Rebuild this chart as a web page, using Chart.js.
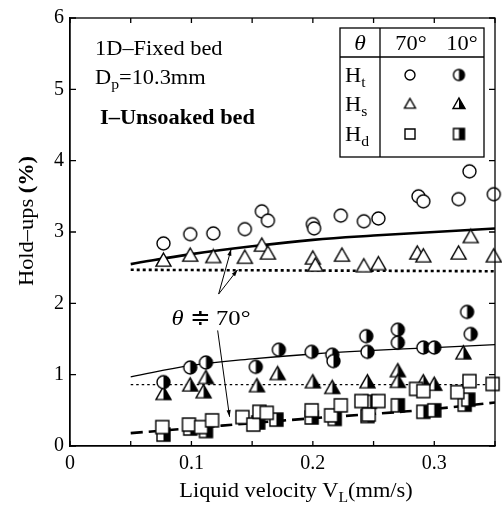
<!DOCTYPE html>
<html>
<head>
<meta charset="utf-8">
<script src="https://cdn.jsdelivr.net/npm/chart.js@4/dist/chart.umd.min.js"></script>
<style>
  html, body { margin: 0; padding: 0; background: #fff; }
  #wrap { width: 502px; height: 508px; position: relative; }
</style>
</head>
<body>
<div id="wrap"><canvas id="chart"></canvas></div>
<script>
// ==== data (x: liquid velocity mm/s, y: hold-up %) ====
const ht70 = [[0.077,2.84],[0.099,2.97],[0.118,2.98],[0.144,3.04],[0.158,3.29],[0.163,3.16],[0.200,3.11],[0.201,3.05],[0.223,3.23],[0.242,3.15],[0.254,3.19],[0.287,3.50],[0.291,3.43],[0.320,3.46],[0.329,3.85],[0.349,3.53]];
const hs70 = [[0.077,2.60],[0.099,2.67],[0.118,2.65],[0.144,2.64],[0.158,2.81],[0.163,2.70],[0.200,2.63],[0.202,2.53],[0.224,2.67],[0.242,2.52],[0.254,2.55],[0.286,2.70],[0.291,2.66],[0.320,2.70],[0.330,2.93],[0.349,2.66]];
const hd70 = [[0.076,0.265],[0.098,0.30],[0.108,0.265],[0.117,0.36],[0.142,0.405],[0.151,0.30],[0.156,0.48],[0.162,0.465],[0.199,0.50],[0.215,0.43],[0.223,0.57],[0.240,0.63],[0.246,0.44],[0.254,0.63],[0.285,0.80],[0.291,0.77],[0.319,0.755],[0.329,0.91],[0.348,0.87]];
const ht10 = [[0.077,0.895],[0.099,1.10],[0.112,1.17],[0.153,1.11],[0.172,1.35],[0.199,1.32],[0.216,1.28],[0.217,1.19],[0.244,1.54],[0.245,1.32],[0.270,1.63],[0.270,1.45],[0.291,1.38],[0.300,1.38],[0.327,1.88],[0.330,1.57]];
const hs10 = [[0.077,0.73],[0.099,0.85],[0.110,0.755],[0.112,0.955],[0.154,0.84],[0.171,1.01],[0.200,0.895],[0.216,0.815],[0.245,0.895],[0.270,1.05],[0.270,0.90],[0.291,0.895],[0.300,0.86],[0.324,1.30]];
const hd10 = [[0.077,0.16],[0.099,0.245],[0.112,0.21],[0.155,0.33],[0.170,0.37],[0.199,0.40],[0.218,0.38],[0.245,0.42],[0.247,0.62],[0.270,0.57],[0.291,0.48],[0.300,0.50],[0.325,0.58],[0.328,0.65]];

// fitted curves as drawn in the figure
const ht70Fit = [[0.05,2.55],[0.10,2.69],[0.15,2.80],[0.20,2.89],[0.25,2.95],[0.30,3.00],[0.35,3.05]];
const hs70Fit = [[0.05,2.47],[0.35,2.45]];
const ht10Fit = [[0.05,0.97],[0.10,1.13],[0.15,1.22],[0.20,1.29],[0.25,1.34],[0.30,1.38],[0.35,1.42]];
const hs10Fit = [[0.05,0.86],[0.35,0.86]];
const hdFit   = [[0.05,0.18],[0.10,0.25],[0.15,0.32],[0.20,0.39],[0.25,0.45],[0.30,0.52],[0.35,0.61]];

const xTicks = [0, 0.1, 0.2, 0.3];
const yTicks = [0, 1, 2, 3, 4, 5, 6];

const SERIF = '"Liberation Serif", "Times New Roman", serif';
const SX = 1.12; // scanned text is a bit wide

Chart.defaults.font.family = SERIF;
Chart.defaults.color = "#000";

// marcadores: blanco, o con mitad derecha negra
function makeMarker(shape, half, size) {
    const pad = 2;
    const c = document.createElement("canvas");
    c.width = c.height = Math.ceil(size + pad * 2);
    const g = c.getContext("2d");
    const m = c.width / 2, r = size / 2;
    function path() {
        g.beginPath();
        if (shape === "circle") g.arc(m, m, r, 0, Math.PI * 2);
        else if (shape === "triangle") {
            g.moveTo(m, m - r);
            g.lineTo(m + r, m + r * 0.75);
            g.lineTo(m - r, m + r * 0.75);
            g.closePath();
        } else g.rect(m - r, m - r, size, size);
    }
    g.lineWidth = 1.4;
    g.strokeStyle = "#000";
    path(); g.fillStyle = "#fff"; g.fill();
    if (half) {
        g.save();
        g.beginPath(); g.rect(m, 0, c.width, c.height); g.clip();
        path(); g.fillStyle = "#000"; g.fill();
        g.restore();
    }
    path(); g.stroke();
    return c;
}

const mk = {
    ht70: makeMarker("circle", false, 13), ht10: makeMarker("circle", true, 13),
    hs70: makeMarker("triangle", false, 15), hs10: makeMarker("triangle", true, 15),
    hd70: makeMarker("square", false, 13), hd10: makeMarker("square", true, 13)
};
const mkSmall = {
    ht70: makeMarker("circle", false, 10), ht10: makeMarker("circle", true, 11),
    hs70: makeMarker("triangle", false, 11), hs10: makeMarker("triangle", true, 12),
    hd70: makeMarker("square", false, 10), hd10: makeMarker("square", true, 11)
};

const toXY = arr => arr.map(p => ({ x: p[0], y: p[1] }));

function pts(data, style) {
    return { data: toXY(data), pointStyle: style, pointRadius: 6, pointHoverRadius: 6,
             showLine: false, clip: false, order: 0 };
}
function fit(data, width, dash, tension) {
    return { data: toXY(data), showLine: true, pointRadius: 0, borderColor: "#000",
             borderWidth: width, borderDash: dash, tension: tension, order: 1, fill: false };
}

// texto con subíndices, algo ensanchado
function rich(ctx, parts, x, y, align) {
    ctx.save();
    ctx.translate(x, y);
    ctx.scale(SX, 1);
    let w = 0;
    parts.forEach(p => { ctx.font = p[1]; w += ctx.measureText(p[0]).width; });
    let cx = align === "center" ? -w / 2 : align === "right" ? -w : 0;
    ctx.textAlign = "left";
    ctx.textBaseline = "alphabetic";
    ctx.fillStyle = "#000";
    parts.forEach(p => {
        ctx.font = p[1];
        ctx.fillText(p[0], cx, p[2] || 0);
        cx += ctx.measureText(p[0]).width;
    });
    ctx.restore();
}

function arrow(ctx, x1, y1, x2, y2) {
    const a = Math.atan2(y2 - y1, x2 - x1), h = 7;
    ctx.beginPath();
    ctx.moveTo(x1, y1); ctx.lineTo(x2, y2);
    ctx.stroke();
    ctx.beginPath();
    ctx.moveTo(x2, y2);
    ctx.lineTo(x2 - h * Math.cos(a - 0.3), y2 - h * Math.sin(a - 0.3));
    ctx.lineTo(x2 - h * Math.cos(a + 0.3), y2 - h * Math.sin(a + 0.3));
    ctx.closePath();
    ctx.fill();
}

const decor = {
    id: "decor",
    afterDraw(chart) {
        const ctx = chart.ctx, a = chart.chartArea;
        const xs = chart.scales.x, ys = chart.scales.y;
        ctx.save();
        ctx.strokeStyle = "#000";
        ctx.fillStyle = "#000";
        ctx.lineWidth = 1.3;
        // marco
        ctx.strokeRect(a.left, a.top, a.right - a.left, a.bottom - a.top);
        // ticks hacia dentro
        xs.ticks.forEach(t => {
            const px = xs.getPixelForValue(t.value);
            ctx.beginPath();
            ctx.moveTo(px, a.bottom); ctx.lineTo(px, a.bottom - 5);
            ctx.moveTo(px, a.top); ctx.lineTo(px, a.top + 5);
            ctx.stroke();
        });
        ys.ticks.forEach(t => {
            const py = ys.getPixelForValue(t.value);
            ctx.beginPath();
            ctx.moveTo(a.left, py); ctx.lineTo(a.left + 6, py);
            ctx.moveTo(a.right, py); ctx.lineTo(a.right - 6, py);
            ctx.stroke();
        });

        // títulos de ejes
        rich(ctx, [["Liquid velocity V", "20px " + SERIF], ["L", "14px " + SERIF, 5], ["(mm/s)", "20px " + SERIF]], 296, 497, "center");
        ctx.save();
        ctx.translate(33, 221);
        ctx.rotate(-Math.PI / 2);
        rich(ctx, [["Hold\u2013ups ", "20px " + SERIF], ["(%)", "bold 20px " + SERIF]], 0, 0, "center");
        ctx.restore();

        // anotaciones
        rich(ctx, [["1D\u2013Fixed bed", "20px " + SERIF]], 95, 55, "left");
        rich(ctx, [["D", "20px " + SERIF], ["p", "14px " + SERIF, 5], ["=10.3mm", "20px " + SERIF]], 95, 84, "left");
        rich(ctx, [["I\u2013Unsoaked bed", "bold 20px " + SERIF]], 100, 124, "left");
        rich(ctx, [["\u03b8", "italic 22px " + SERIF], [" \u2251 70\u00b0", "22px " + SERIF]], 211, 325, "center");

        ctx.lineWidth = 1;
        const P = (x, y) => [xs.getPixelForValue(x), ys.getPixelForValue(y)];
        let s = P(0.1224, 2.13), e1 = P(0.1327, 2.76), e2 = P(0.138, 2.47);
        arrow(ctx, s[0], s[1], e1[0], e1[1]);
        arrow(ctx, s[0], s[1], e2[0], e2[1]);
        s = P(0.1216, 1.62); e1 = P(0.1314, 0.41);
        arrow(ctx, s[0], s[1], e1[0], e1[1]);

        // tabla de leyenda
        const L = 340, T = 28, R = 484, B = 157, D = 380, H = 57;
        ctx.fillStyle = "#fff";
        ctx.fillRect(L, T, R - L, B - T);
        ctx.fillStyle = "#000";
        ctx.lineWidth = 1.3;
        ctx.strokeRect(L, T, R - L, B - T);
        ctx.beginPath();
        ctx.moveTo(D, T); ctx.lineTo(D, B);
        ctx.stroke();
        ctx.lineWidth = 1.6;
        ctx.beginPath();
        ctx.moveTo(L, H); ctx.lineTo(R, H);
        ctx.stroke();
        rich(ctx, [["\u03b8", "italic 21px " + SERIF]], 360, 50, "center");
        rich(ctx, [["70\u00b0", "20px " + SERIF]], 411, 50, "center");
        rich(ctx, [["10\u00b0", "20px " + SERIF]], 462, 50, "center");
        const rows = [["t", "ht70", "ht10", 75], ["s", "hs70", "hs10", 104], ["d", "hd70", "hd10", 134]];
        rows.forEach(r => {
            rich(ctx, [["H", "20px " + SERIF], [r[0], "14px " + SERIF, 5]], 345, r[3] + 7, "left");
            const c1 = mkSmall[r[1]], c2 = mkSmall[r[2]];
            ctx.drawImage(c1, 410 - c1.width / 2, r[3] - c1.height / 2);
            ctx.drawImage(c2, 459 - c2.width / 2, r[3] - c2.height / 2);
        });
        ctx.restore();
    }
};

new Chart(document.getElementById("chart"), {
    type: "scatter",
    data: {
        datasets: [
            pts(ht70, mk.ht70), pts(hs70, mk.hs70), pts(hd70, mk.hd70),
            pts(ht10, mk.ht10), pts(hs10, mk.hs10), pts(hd10, mk.hd10),
            fit(ht70Fit, 2.6, [], 0.4),
            fit(hs70Fit, 2.6, [3, 3], 0),
            fit(ht10Fit, 1.3, [], 0.4),
            fit(hs10Fit, 1.3, [2.5, 3], 0),
            fit(hdFit, 2.6, [12, 6], 0.4)
        ]
    },
    options: {
        responsive: true,
        maintainAspectRatio: false,
        animation: false,
        layout: { padding: { left: 0, top: 16, right: 3, bottom: 0 } },
        plugins: { legend: { display: false }, tooltip: { enabled: false } },
        scales: {
            x: {
                type: "linear", min: 0, max: 0.35,
                grid: { display: false, drawTicks: false },
                border: { display: true, color: "#000", width: 1.3 },
                ticks: {
                    stepSize: 0.05, padding: 6, maxRotation: 0, autoSkip: false,
                    font: { size: 20, family: SERIF },
                    callback: v => {
                        const hit = xTicks.find(t => Math.abs(t - v) < 1e-6);
                        if (hit === undefined) return "";
                        return hit === 0 ? "0" : hit.toFixed(1);
                    }
                },
                afterFit: s => { s.height = 62; }
            },
            y: {
                type: "linear", min: 0, max: 6,
                grid: { display: false, drawTicks: false },
                border: { display: true, color: "#000", width: 1.3 },
                ticks: {
                    stepSize: 1, padding: 6,
                    font: { size: 20, family: SERIF },
                    callback: v => yTicks.includes(v) ? String(v) : ""
                },
                afterFit: s => { s.width = 70; }
            }
        }
    },
    plugins: [decor]
});
</script>
</body>
</html>
